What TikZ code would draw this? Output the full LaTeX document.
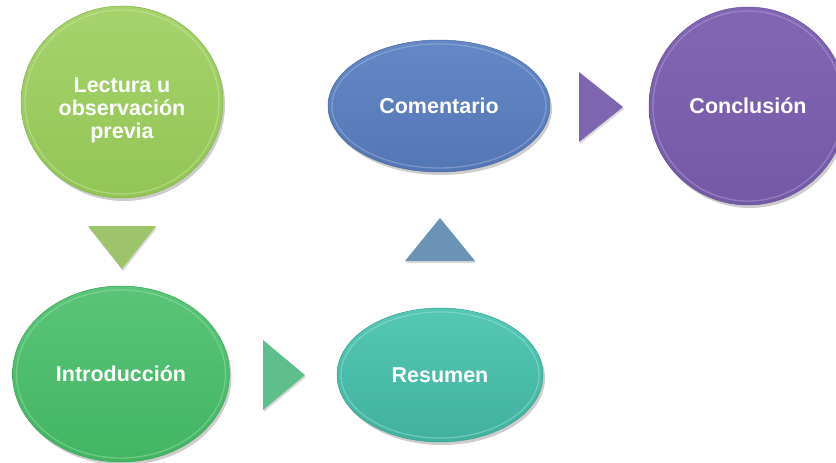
\documentclass[tikz,border=0pt]{standalone}
\usepackage{fontspec}
\setmainfont{Liberation Sans}
\usetikzlibrary{shapes.geometric,shadows,calc}
\definecolor{gAtop}{HTML}{A6D36C}
\definecolor{gAbot}{HTML}{93C556}
\definecolor{gArim}{HTML}{CBE6A6}
\definecolor{gBtop}{HTML}{5AC479}
\definecolor{gBbot}{HTML}{42B562}
\definecolor{gBrim}{HTML}{9ADDAB}
\definecolor{tTop}{HTML}{55C7B5}
\definecolor{tBot}{HTML}{40B19F}
\definecolor{tRim}{HTML}{9BE0D4}
\definecolor{bTop}{HTML}{6488C5}
\definecolor{bBot}{HTML}{5476B5}
\definecolor{bRim}{HTML}{A1B7DE}
\definecolor{pTop}{HTML}{8266B4}
\definecolor{pBot}{HTML}{7459A6}
\definecolor{pRim}{HTML}{B4A2D6}
\definecolor{triA}{HTML}{9DC46A}
\definecolor{triB}{HTML}{5FBF8C}
\definecolor{triC}{HTML}{6A93B6}
\definecolor{triD}{HTML}{7E65B0}
\begin{document}
\begin{tikzpicture}[x=1pt,y=-1pt,
  bubtext/.style={inner sep=0pt, align=center,
    font=\fontsize{21.5}{23}\selectfont\bfseries, text=white},
  bub/.style={bubtext,
    line width=0.5pt,
    drop shadow={shadow xshift=2pt,shadow yshift=-3pt,opacity=0.28,fill=black!70}},
  rim/.style={path picture={
    \path let \p1=($(path picture bounding box.north east)-(path picture bounding box.south west)$) in
      (path picture bounding box.center) node[draw=none]{}
      [draw=#1, line width=1.3pt, opacity=0.5]
      ellipse [x radius={0.5*\x1-4pt}, y radius={0.5*\y1-4pt}];}},
  oval/.style={bub, ellipse},
  tri/.style={draw=none, drop shadow={shadow xshift=1pt,shadow yshift=-2pt,opacity=0.3}}]
\useasboundingbox (0,0) rectangle (836,463);

\node[oval, minimum width=202pt, minimum height=192pt,
  top color=gAtop, bottom color=gAbot, draw=gAbot!90!black, rim=gArim,
  label={[bubtext, yshift=-8pt]center:{Lectura u\\observación\\previa}}] (lec) at (122,102) {};
\node[oval, minimum width=217pt, minimum height=176pt,
  top color=gBtop, bottom color=gBbot, draw=gBbot!90!black, rim=gBrim] (intro) at (121,374)
  {Introducción};
\node[oval, minimum width=206pt, minimum height=134pt,
  top color=tTop, bottom color=tBot, draw=tBot!90!black, rim=tRim] (res) at (440,375)
  {Resumen};
\node[oval, minimum width=222pt, minimum height=132pt,
  top color=bTop, bottom color=bBot, draw=bBot!90!black, rim=bRim] (com) at (439,106)
  {Comentario};
\node[oval, minimum width=198pt, minimum height=198pt,
  top color=pTop, bottom color=pBot, draw=pBot!90!black, rim=pRim] (conc) at (748,106)
  {Conclusión};

% arrow triangles between nodes
\coordinate (a1) at (122,247);
\coordinate (a2) at (284,375);
\coordinate (a3) at (440,240);
\coordinate (a4) at (601,107);
\fill[tri, triA] ($(a1)+(-34,-21)$) -- ($(a1)+(34,-21)$) -- ($(a1)+(0,22)$) -- cycle;
\fill[tri, triB] ($(a2)+(-21,-35)$) -- ($(a2)+(21,0)$) -- ($(a2)+(-21,35)$) -- cycle;
\fill[tri, triC] ($(a3)+(-35,21)$) -- ($(a3)+(0,-22)$) -- ($(a3)+(35,21)$) -- cycle;
\fill[tri, triD] ($(a4)+(-22,-35)$) -- ($(a4)+(22,0)$) -- ($(a4)+(-22,35)$) -- cycle;
\end{tikzpicture}
\end{document}
